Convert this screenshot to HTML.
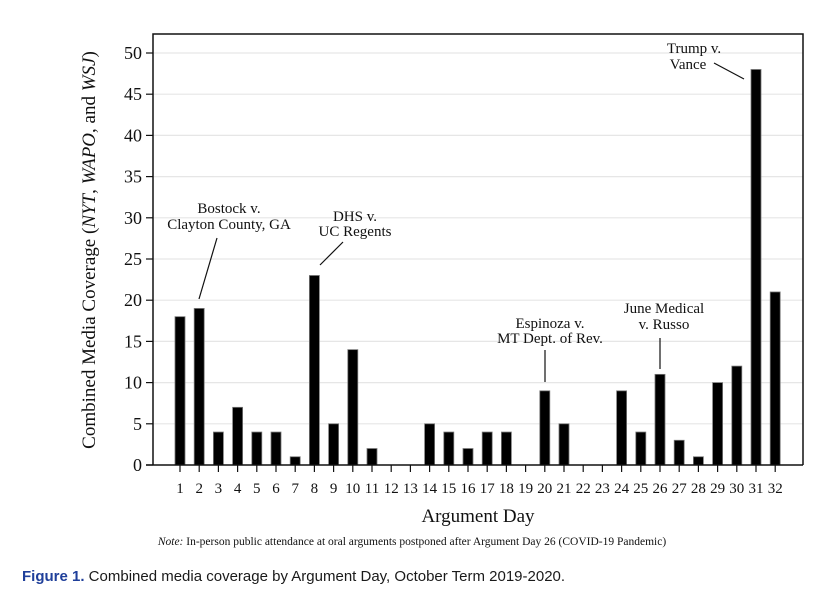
<!DOCTYPE html>
<html><head><meta charset="utf-8"><style>
body{margin:0;background:#fff;width:825px;height:592px;overflow:hidden}
svg{display:block}
text{font-family:"Liberation Serif",serif;fill:#111}
</style></head><body>
<svg width="825" height="592">
<g id="grid"></g>
<g id="bars"></g>
<g id="axes"></g>
<g font-size="15">
<text x="229" y="213" text-anchor="middle" font-size="15">Bostock v.</text>
<text x="229" y="229" text-anchor="middle" font-size="15">Clayton County, GA</text>
<line x1="217" y1="238" x2="199" y2="299" stroke="#111" stroke-width="1.2"/>
<text x="355" y="221" text-anchor="middle" font-size="15">DHS v.</text>
<text x="355" y="236" text-anchor="middle" font-size="15">UC Regents</text>
<line x1="343" y1="242" x2="320" y2="265" stroke="#111" stroke-width="1.2"/>
<text x="694" y="53" text-anchor="middle" font-size="15">Trump v.</text>
<text x="688" y="69" text-anchor="middle" font-size="15">Vance</text>
<line x1="714" y1="63" x2="744" y2="79" stroke="#111" stroke-width="1.2"/>
<text x="550" y="328" text-anchor="middle" font-size="15">Espinoza v.</text>
<text x="550" y="343" text-anchor="middle" font-size="15">MT Dept. of Rev.</text>
<line x1="545" y1="350" x2="545" y2="382" stroke="#111" stroke-width="1.2"/>
<text x="664" y="313" text-anchor="middle" font-size="15">June Medical</text>
<text x="664" y="329" text-anchor="middle" font-size="15">v. Russo</text>
<line x1="660" y1="338" x2="660" y2="369" stroke="#111" stroke-width="1.2"/>
</g>
<text x="95" y="250" font-size="19" text-anchor="middle" transform="rotate(-90 95 250)">Combined Media Coverage (<tspan font-style="italic">NYT</tspan>, <tspan font-style="italic">WAPO</tspan>, and <tspan font-style="italic">WSJ</tspan>)</text>
<text x="478" y="522" font-size="19" text-anchor="middle">Argument Day</text>
<text x="412" y="545" font-size="11.5" text-anchor="middle"><tspan font-style="italic">Note:</tspan> In-person public attendance at oral arguments postponed after Argument Day 26 (COVID-19 Pandemic)</text>
<text x="22" y="581" font-size="15" style="font-family:'Liberation Sans',sans-serif;fill:#1a1a1a"><tspan style="fill:#1f3f9a" font-weight="bold">Figure 1.</tspan>  Combined media coverage by Argument Day, October Term 2019-2020.</text>
</svg>
<script>
const days=[1,2,3,4,5,6,7,8,9,10,11,12,13,14,15,16,17,18,19,20,21,22,23,24,25,26,27,28,29,30,31,32];
const coverage=[18,19,4,7,4,4,1,23,5,14,2,0,0,5,4,2,4,4,0,9,5,0,0,9,4,11,3,1,10,12,48,21];
const yTicks=[0,5,10,15,20,25,30,35,40,45,50];
const NS="http://www.w3.org/2000/svg";
const x=d=>180+(d-1)*19.2;
const y=v=>465-v*8.24;
function mk(tag,attrs,parent){const e=document.createElementNS(NS,tag);for(const k in attrs)e.setAttribute(k,attrs[k]);parent.appendChild(e);return e;}
const grid=document.getElementById('grid'),bars=document.getElementById('bars'),axes=document.getElementById('axes');
yTicks.forEach(t=>{
 if(t>0){const g=mk('line',{x1:153,x2:803,y1:y(t),y2:y(t),stroke:'#e6e6e6','stroke-width':1.2},grid);
 
 }
 const tk=mk('line',{x1:146,x2:153,y1:y(t),y2:y(t),stroke:'#111','stroke-width':1.2},axes);
 
 
 const lb=mk('text',{x:142,y:y(t)+6,'text-anchor':'end','font-size':18},axes);lb.textContent=t;
 
 
});
days.forEach((d,i)=>{
 const v=coverage[i];
 if(v>0){const r=mk('rect',{x:x(d)-5,y:y(v),width:10,height:465-y(v),fill:'#000',stroke:'#777','stroke-width':0.8},bars);
 
 }
 const tk=mk('line',{x1:x(d),x2:x(d),y1:465,y2:472,stroke:'#111','stroke-width':1.2},axes);
 
 
 const lb=mk('text',{x:x(d),y:493,'text-anchor':'middle','font-size':15},axes);lb.textContent=d;
 
 
});
const fr=mk('path',{d:'M153 465 L153 34 L803 34 L803 465',fill:'none',stroke:'#111','stroke-width':1.5},axes);


const xa=mk('line',{x1:146,x2:803,y1:465,y2:465,stroke:'#111','stroke-width':1.5},axes);


</script>
</body></html>
